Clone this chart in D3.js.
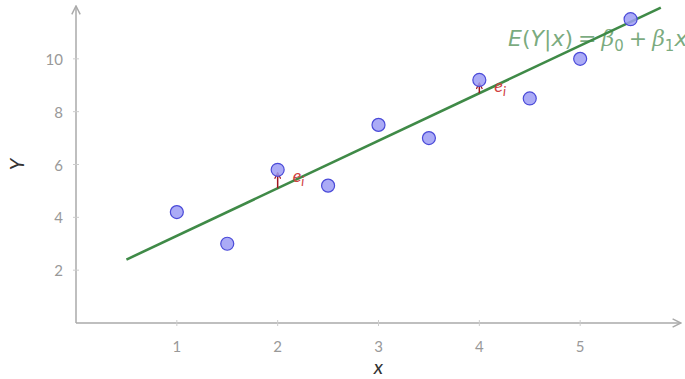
<head><script src="https://d3js.org/d3.v7.min.js"></script></head>
<body style="margin:0;background:#fff">
<svg id="chart" width="685" height="379"></svg>
<script>
var xs = [1, 1.5, 2, 2.5, 3, 3.5, 4, 4.5, 5, 5.5];
var ys = [4.2, 3, 5.8, 5.2, 7.5, 7, 9.2, 8.5, 10, 11.5];
// fitted line E(Y|x) = b0 + b1 x, drawn from x=0.5 to x=5.8
var beta = [1.5, 1.8];
var lineRange = [0.5, 5.8];
// residual arrows shown for these points (index into xs/ys)
var residIdx = [2, 6];
var xTicks = [1, 2, 3, 4, 5];
var yTicks = [2, 4, 6, 8, 10];

var svg = d3.select("#chart");
var x = d3.scaleLinear().domain([0, 6]).range([76, 681]);
var y = d3.scaleLinear().domain([0, 12]).range([323, 6]);

var axisCol = "#aaa", tickCol = "#999";
var font = "Lato, 'Open Sans', sans-serif";
var mathFont = "'DejaVu Sans', sans-serif";

var defs = svg.append("defs");
defs.append("marker").attr("id", "axArrow").attr("viewBox", "0 0 10 10")
  .attr("refX", 9).attr("refY", 5).attr("markerWidth", 7).attr("markerHeight", 7)
  .attr("orient", "auto")
  .append("path").attr("d", "M1,1 L9,5 L1,9").attr("fill", "none")
  .attr("stroke", axisCol).attr("stroke-width", 1.4);
defs.append("marker").attr("id", "resArrow").attr("viewBox", "0 0 10 10")
  .attr("refX", 9).attr("refY", 5).attr("markerWidth", 5).attr("markerHeight", 5)
  .attr("orient", "auto")
  .append("path").attr("d", "M1,1 L9,5 L1,9").attr("fill", "none")
  .attr("stroke", "#a0141e").attr("stroke-width", 1.6);

// axes
svg.append("line").attr("x1", x(0)).attr("y1", y(0)).attr("x2", x(6)).attr("y2", y(0))
  .attr("stroke", axisCol).attr("stroke-width", 1.5).attr("marker-end", "url(#axArrow)");
svg.append("line").attr("x1", x(0)).attr("y1", y(0)).attr("x2", x(0)).attr("y2", y(12))
  .attr("stroke", axisCol).attr("stroke-width", 1.5).attr("marker-end", "url(#axArrow)");

xTicks.forEach(function(t) {
  svg.append("line").attr("x1", x(t)).attr("x2", x(t)).attr("y1", y(0) - 3).attr("y2", y(0) + 3)
    .attr("stroke", "#ccc").attr("stroke-width", 1);
  svg.append("text").attr("x", x(t)).attr("y", y(0) + 29).attr("text-anchor", "middle")
    .style("font-family", font).style("font-size", "15px").attr("fill", tickCol).text(t);
});
yTicks.forEach(function(t) {
  svg.append("line").attr("x1", x(0) - 3).attr("x2", x(0) + 3).attr("y1", y(t)).attr("y2", y(t))
    .attr("stroke", "#ccc").attr("stroke-width", 1);
  svg.append("text").attr("x", x(0) - 13).attr("y", y(t) + 6).attr("text-anchor", "end")
    .style("font-family", font).style("font-size", "15px").attr("fill", tickCol).text(t);
});

svg.append("text").attr("x", x(3)).attr("y", 374).attr("text-anchor", "middle")
  .style("font-family", font).style("font-size", "20px").style("font-style", "italic")
  .attr("fill", "#333").text("x");
svg.append("text").attr("transform", "translate(24," + y(6) + ") rotate(-90)")
  .attr("text-anchor", "middle")
  .style("font-family", font).style("font-size", "20px").style("font-style", "italic")
  .attr("fill", "#333").text("Y");

// formula label (sits under the line, runs off the right edge)
var f = svg.append("text").attr("x", 508).attr("y", 46)
  .style("font-family", mathFont).style("font-size", "22px")
  .attr("fill", "#4f8f55").attr("fill-opacity", 0.75);
f.append("tspan").style("font-style", "italic").text("E");
f.append("tspan").text("(");
f.append("tspan").style("font-style", "italic").text("Y");
f.append("tspan").text("|");
f.append("tspan").style("font-style", "italic").text("x");
f.append("tspan").text(")");
f.append("tspan").attr("dx", 5).text("=");
f.append("tspan").attr("dx", 5).style("font-style", "italic").style("font-family", "'DejaVu Serif', serif").text("β");
f.append("tspan").attr("dy", 5).style("font-size", "15px").text("0");
f.append("tspan").attr("dy", -5).attr("dx", 5).text("+");
f.append("tspan").attr("dx", 5).style("font-style", "italic").style("font-family", "'DejaVu Serif', serif").text("β");
f.append("tspan").attr("dy", 5).style("font-size", "15px").text("1");
f.append("tspan").attr("dy", -5).style("font-style", "italic").text("x");

// regression line
var fit = function(v) { return beta[0] + beta[1] * v; };
svg.append("line")
  .attr("x1", x(lineRange[0])).attr("y1", y(fit(lineRange[0])))
  .attr("x2", x(lineRange[1])).attr("y2", y(fit(lineRange[1])))
  .attr("stroke", "#3f8a47").attr("stroke-width", 2.6);

// residual arrows and labels
residIdx.forEach(function(i) {
  svg.append("line").attr("x1", x(xs[i])).attr("y1", y(fit(xs[i])))
    .attr("x2", x(xs[i])).attr("y2", y(ys[i]) + 3)
    .attr("stroke", "#a0141e").attr("stroke-width", 1.5).attr("marker-end", "url(#resArrow)");
  var t = svg.append("text").attr("x", x(xs[i]) + 15).attr("y", y(ys[i]) + 12)
    .style("font-family", font).style("font-size", "18px")
    .style("font-style", "italic").attr("fill", "#d04040");
  t.append("tspan").text("e");
  t.append("tspan").attr("dy", 4).style("font-size", "13px").text("i");
});

// points
svg.selectAll("circle.pt").data(xs).enter().append("circle").attr("class", "pt")
  .attr("cx", function(d) { return x(d); })
  .attr("cy", function(d, i) { return y(ys[i]); })
  .attr("r", 6.5)
  .attr("fill", "#9c9cf5").attr("fill-opacity", 0.85)
  .attr("stroke", "#4a4ad8").attr("stroke-width", 1.2);
</script>
</body>
